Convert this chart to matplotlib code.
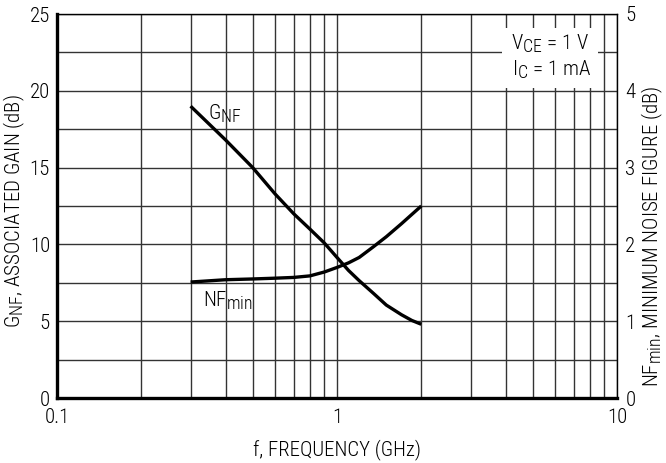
import numpy as np
import matplotlib
matplotlib.use("Agg")
from matplotlib import pyplot as plt
from matplotlib.patches import Rectangle
import matplotlib._mathtext as mt

# bigger subscripts, like the datasheet lettering
mt.SHRINK_FACTOR = 0.85

plt.rcParams["font.family"] = ["Roboto Condensed", "DejaVu Sans"]
plt.rcParams["font.weight"] = "light"
plt.rcParams["axes.labelweight"] = "light"

# values
freq = [0.3, 0.4, 0.5, 0.6, 0.7, 0.8, 0.9, 1.0, 1.1, 1.2, 1.35, 1.5, 1.7, 1.85, 2.0]
gain_nf = [19.0, 16.8, 15.0, 13.3, 12.0, 11.0, 10.1, 9.15, 8.3, 7.64, 6.81, 6.05, 5.42, 5.05, 4.8]  # dB, left
nf_min = [1.51, 1.54, 1.55, 1.56, 1.57, 1.59, 1.64, 1.70, 1.76, 1.83, 1.97, 2.1, 2.27, 2.39, 2.5]  # dB, right

gain_ticks = [0, 5, 10, 15, 20, 25]
nf_ticks = [0, 1, 2, 3, 4, 5]
freq_ticks = [0.1, 1, 10]
freq_ticklabels = ["0.1", "1", "10"]

fs = 15

fig = plt.figure(figsize=(6.66, 4.63), dpi=100)
ax = fig.add_axes([57 / 666, 1 - 398 / 463, 560 / 666, 384 / 463])
ax.set_xscale("log")
ax.set_xlim(0.1, 10)
ax.set_ylim(0, 25)
ax.set_axisbelow(True)

# grid: log minors on x, every 2.5 dB on y
ax.set_xticks(freq_ticks)
ax.set_xticklabels(freq_ticklabels)
ax.set_xticks([m * d for d in (0.1, 1) for m in range(2, 10)], minor=True)
ax.set_yticks(gain_ticks)
ax.set_yticks(np.arange(2.5, 25, 5), minor=True)
ax.grid(which="both", color="#333333", linewidth=1.0)
ax.tick_params(which="both", length=0, labelsize=fs)
ax.tick_params(axis="y", pad=5)
ax.tick_params(axis="x", pad=7)
ax.tick_params(axis="x", which="minor", labelbottom=False)

for side in ("left", "bottom"):
    ax.spines[side].set_linewidth(2.4)
for side in ("top", "right"):
    ax.spines[side].set_linewidth(1.0)

ax2 = ax.twinx()
ax2.set_ylim(0, 5)
ax2.set_yticks(nf_ticks)
ax2.tick_params(length=0, labelsize=fs, pad=6)
for s in ax2.spines.values():
    s.set_visible(False)

ax.plot(freq, gain_nf, color="black", linewidth=2.4, zorder=3,
        solid_capstyle="butt", solid_joinstyle="round")
ax2.plot(freq, nf_min, color="black", linewidth=2.4, zorder=3,
         solid_capstyle="butt", solid_joinstyle="round")

ax.text((208 - 57) / 560, (398 - 120) / 384, r"$\mathregular{G_{NF}}$", transform=ax.transAxes,
        fontsize=fs, va="baseline")
ax.text((203 - 57) / 560, (398 - 307) / 384, r"$\mathregular{NF_{min}}$", transform=ax.transAxes,
        fontsize=fs, va="baseline")

# condition box
ax.add_patch(Rectangle((0.795, 0.807), 0.171, 0.157, transform=ax.transAxes,
                       facecolor="white", edgecolor="none", zorder=2))
ax.text(0.81, 0.906, r"$\mathregular{V_{CE}}$ = 1 V", transform=ax.transAxes,
        fontsize=fs, ha="left", va="baseline", zorder=4)
ax.text(0.812, 0.839, r"$\mathregular{I_C}$ = 1 mA", transform=ax.transAxes,
        fontsize=fs, ha="left", va="baseline", zorder=4)

ax.set_xlabel("f, FREQUENCY (GHz)", fontsize=fs, labelpad=9)
fig.text(14 / 666, 1 - 211 / 463, r"$\mathregular{G_{NF}}$, ASSOCIATED GAIN (dB)",
         rotation=90, fontsize=fs, ha="center", va="center")
fig.text(652 / 666, 1 - 236 / 463, r"$\mathregular{NF_{min}}$, MINIMUM NOISE FIGURE (dB)",
         rotation=90, fontsize=fs, ha="center", va="center")

fig.savefig("out.png", dpi=100)
